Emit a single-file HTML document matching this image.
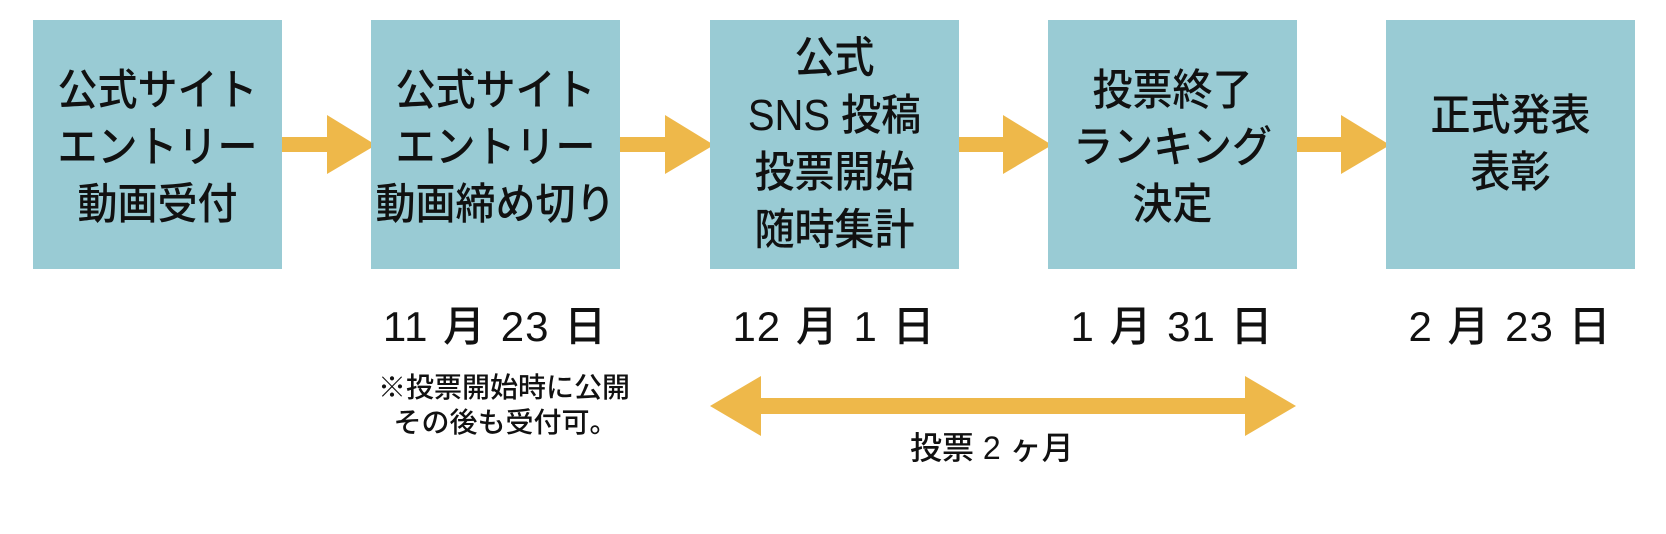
<!DOCTYPE html>
<html><head><meta charset="utf-8"><style>
body{margin:0;width:1666px;height:534px;background:#fff;position:relative;overflow:hidden;font-family:"Liberation Sans","Noto Sans CJK JP",sans-serif;color:#111;font-weight:500}
.b{position:absolute;top:20px;width:249px;height:249px;background:#99cbd4;display:flex;align-items:center;justify-content:center;text-align:center;font-size:40px;line-height:53px}
.b div{transform:scaleY(1.08)}
.d{position:absolute;top:302px;width:300px;text-align:center;font-size:42px;line-height:50px;letter-spacing:1px;word-spacing:2px}
svg{position:absolute;left:0;top:0}
</style></head><body>
<svg width="1666" height="534">
<g fill="#eeb84a">
<path d="M274 137H327V115L376 145L327 174V152H274Z"/>
<path d="M612 137H665V115L714 145L665 174V152H612Z"/>
<path d="M950 137H1003V115L1052 145L1003 174V152H950Z"/>
<path d="M1288 137H1341V115L1390 145L1341 174V152H1288Z"/>
<path d="M710 406L761 376V398H1245V376L1296 406L1245 436V414H761V436Z"/>
</g></svg>
<div class="b" style="left:33px"><div style="margin-top:8px">公式サイト<br>エントリー<br>動画受付</div></div>
<div class="b" style="left:371px"><div style="margin-top:8px">公式サイト<br>エントリー<br>動画締め切り</div></div>
<div class="b" style="left:710px"><div>公式<br>SNS 投稿<br>投票開始<br>随時集計</div></div>
<div class="b" style="left:1048px"><div style="margin-top:8px">投票終了<br>ランキング<br>決定</div></div>
<div class="b" style="left:1386px"><div>正式発表<br>表彰</div></div>
<div class="d" style="left:345px">11 月 23 日</div>
<div class="d" style="left:684px">12 月 1 日</div>
<div class="d" style="left:1022px">1 月 31 日</div>
<div class="d" style="left:1360px">2 月 23 日</div>
<div style="position:absolute;left:378px;top:370px;font-size:28px;line-height:35px">※投票開始時に公開<br>&nbsp;&nbsp;その後も受付可。</div>
<div style="position:absolute;left:910px;top:428px;font-size:32px;line-height:40px">投票 2 ヶ月</div>
</body></html>
